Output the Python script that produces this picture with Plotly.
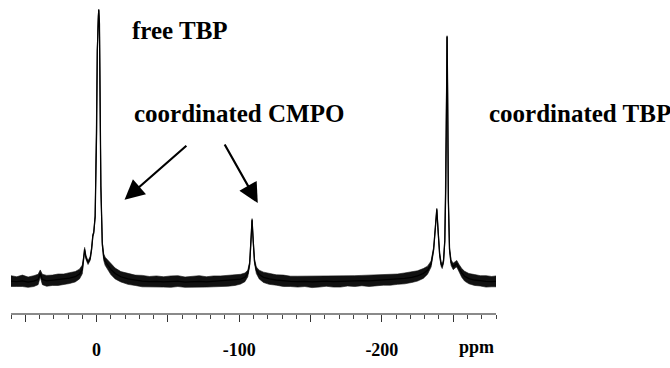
import plotly.graph_objects as go

# 31P NMR spectrum (ppm, relative intensity, noise half-width)
ppm = [60, 56, 52, 48, 44, 41, 39.5, 38, 35, 31,
       27, 23, 19, 15, 12, 10, 9, 8.4, 7.5, 6,
       4.5, 3.5, 2.6, 2, 1, 0.5, 0, -0.5, -1, -1.5,
       -2, -2.5, -3, -4, -5, -6, -8, -10, -13, -17,
       -22, -27, -32, -37, -42, -47, -52, -57, -62, -67,
       -72, -77, -82, -87, -92, -97, -101, -104, -106, -107.3,
       -108.2, -109, -109.8, -110.7, -112, -114, -117, -121, -126, -131,
       -136, -141, -146, -151, -156, -161, -166, -171, -176, -181,
       -186, -191, -196, -201, -206, -211, -216, -221, -225, -229,
       -232, -234.5, -236.3, -237.5, -238.5, -239.5, -240.5, -241.5, -242.3, -243.2,
       -244.1, -244.8, -245.3, -245.7, -246.1, -246.6, -247.4, -248.5, -250, -251.5,
       -252.5, -254, -256, -258, -261, -265, -269, -273, -277, -280]

intensity = [0.2, 0.0, 0.3, -0.2, 0.2, 0.8, 3.0, 0.8, 0.3, 0.5,
             0.7, 0.9, 1.3, 1.8, 2.8, 4.5, 8, 11.9, 9, 7,
             8.5, 12, 17, 18, 24, 35, 55, 85, 98, 100,
             95, 70, 35, 14, 9, 7.5, 6, 4.5, 3, 1.8,
             1.0, 0.5, 0.2, 0.0, 0.1, -0.1, 0.0, 0.2, -0.2, 0.0,
             0.1, -0.1, 0.1, 0.2, 0.3, 0.5, 0.9, 1.6, 3.0, 6.5,
             14, 22.8, 15, 7.5, 4.2, 2.6, 1.6, 1.0, 0.6, 0.3,
             0.1, 0.0, 0.1, -0.1, 0.0, 0.2, 0.0, 0.1, 0.3, 0.2,
             0.4, 0.3, 0.5, 0.6, 0.7, 0.9, 1.2, 1.6, 2.1, 3.0,
             4.2, 6.5, 12, 20, 26.6, 18, 10, 6.5, 5.6, 7.5,
             15, 35, 70, 90.2, 70, 30, 12, 7, 5.6, 6.3,
             6.6, 5, 3.2, 2.0, 1.1, 0.6, 0.3, 0.1, 0.0, 0.1]

noise = [2.0, 1.8, 2.1, 1.9, 2.0, 1.9, 1.3, 1.9, 2.0, 1.9,
         2.1, 1.9, 2.0, 1.9, 1.8, 1.6, 1.2, 0.7, 0.7, 0.7,
         0.7, 0.6, 0.5, 0.4, 0.4, 0.3, 0.3, 0.3, 0.3, 0.3,
         0.3, 0.3, 0.4, 0.7, 1.2, 1.5, 1.8, 1.9, 2.0, 1.9,
         2.0, 1.9, 2.1, 1.9, 2.0, 1.9, 2.1, 2.0, 1.9, 2.0,
         2.1, 1.9, 2.0, 1.9, 2.0, 1.9, 1.8, 1.6, 1.2, 0.8,
         0.5, 0.4, 0.5, 0.8, 1.2, 1.6, 1.9, 2.0, 1.9, 2.1,
         1.9, 2.0, 1.9, 2.1, 2.0, 1.9, 2.0, 2.1, 1.9, 2.0,
         1.9, 2.1, 2.0, 1.9, 2.0, 1.9, 2.0, 1.9, 1.9, 1.8,
         1.5, 1.1, 0.7, 0.5, 0.4, 0.5, 0.7, 0.8, 0.8, 0.7,
         0.5, 0.3, 0.3, 0.3, 0.3, 0.4, 0.7, 1.0, 1.2, 1.2,
         1.2, 1.4, 1.6, 1.8, 1.9, 2.0, 1.9, 2.1, 1.9, 2.0]

tick_vals = [50, 0, -50, -100, -150, -200, -250]
tick_text = ["", "<b>0</b>", "", "<b>-100</b>", "", "<b>-200</b>", ""]

upper = [i + n for i, n in zip(intensity, noise)]
lower = [i - n for i, n in zip(intensity, noise)]

fig = go.Figure()
fig.add_trace(go.Scatter(
    x=ppm + ppm[::-1], y=upper + lower[::-1],
    mode="lines", fill="toself", fillcolor="#111111",
    line=dict(color="#111111", width=0.6), hoverinfo="skip", showlegend=False))
fig.add_trace(go.Scatter(
    x=ppm, y=intensity, mode="lines",
    line=dict(color="#000000", width=1.3), showlegend=False))

serif = "Liberation Serif"
txt = dict(family=serif, size=25, color="#000000")

fig.add_annotation(x=-23.4, y=92.3, xref="x", yref="y", text="<b>free TBP</b>",
                   showarrow=False, xanchor="left", yanchor="middle", font=txt)
fig.add_annotation(x=-24.8, y=62.0, xref="x", yref="y", text="<b>coordinated CMPO</b>",
                   showarrow=False, xanchor="left", yanchor="middle", font=txt)
fig.add_annotation(x=0.982, y=0.655, xref="paper", yref="paper", text="<b>coordinated TBP</b>",
                   showarrow=False, xanchor="left", yanchor="middle", font=txt)

for (tx, ty, hx, hy) in [(-64, 50.5, -19.6, 30.1), (-89.2, 51, -113, 28.9)]:
    fig.add_annotation(x=hx, y=hy, ax=tx, ay=ty, xref="x", yref="y",
                       axref="x", ayref="y", showarrow=True, text="",
                       arrowhead=2, arrowsize=1.8, arrowwidth=2.2,
                       arrowcolor="#000000")

fig.add_annotation(x=-266.5, y=-0.112, xref="x", yref="paper", text="<b>ppm</b>",
                   showarrow=False, xanchor="center", yanchor="middle",
                   font=dict(family=serif, size=18, color="#000000"))

fig.update_xaxes(range=[60, -280], showgrid=False, zeroline=False,
                 showline=True, linecolor="#8a8a8a", linewidth=1.5,
                 ticks="outside", ticklen=7, tickwidth=1, tickcolor="#333333",
                 tickmode="array", tickvals=tick_vals, ticktext=tick_text,
                 ticklabelstandoff=13,
                 tickfont=dict(family=serif, size=18, color="#000000"),
                 minor=dict(dtick=10, ticks="outside", ticklen=4,
                            tickcolor="#444444", tickwidth=1, showgrid=False))
fig.update_yaxes(range=[-11.54, 100.7], visible=False)

fig.update_layout(width=670, height=368,
                  margin=dict(l=11, r=174, t=8, b=39),
                  paper_bgcolor="white", plot_bgcolor="white",
                  showlegend=False)

fig.write_html("out.html")
